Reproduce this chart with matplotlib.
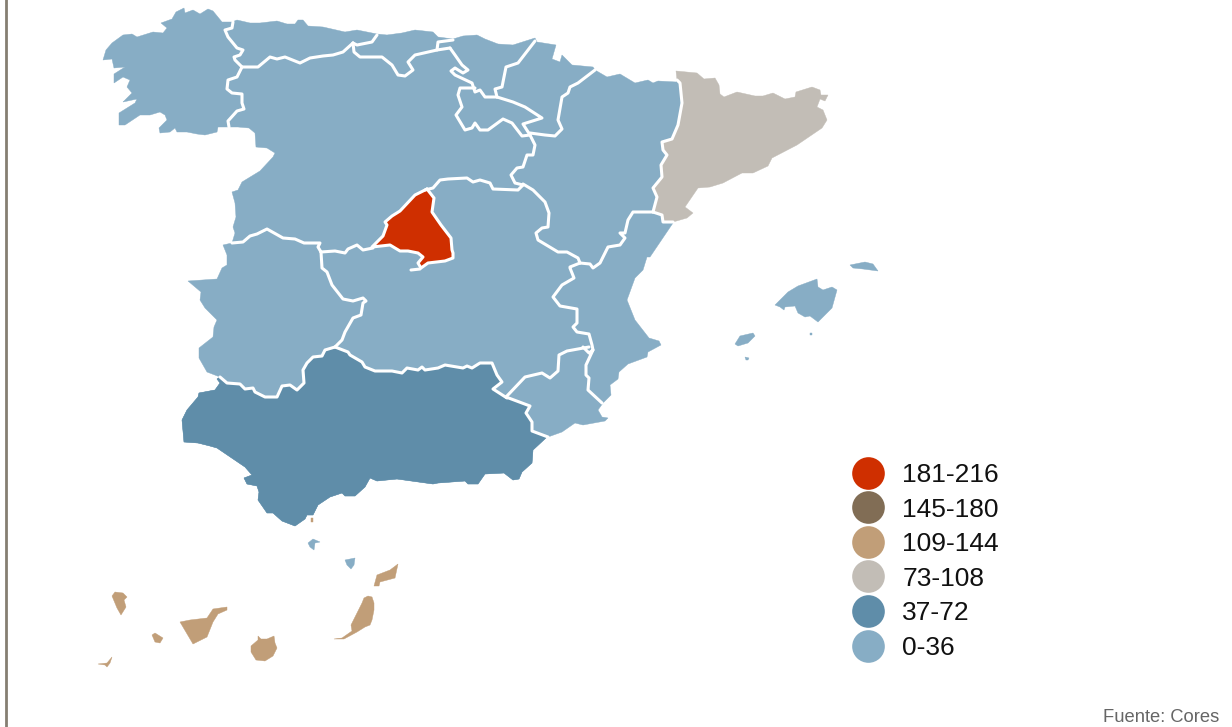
import matplotlib
matplotlib.use("Agg")
import matplotlib.pyplot as plt
from matplotlib.lines import Line2D

plt.rcParams['font.family'] = ['Liberation Sans', 'DejaVu Sans']

# colours per class
legend_labels = ['181-216', '145-180', '109-144', '73-108', '37-72', '0-36']
legend_colors = ['#cf2f00', '#816d55', '#c19e78', '#c2bdb6', '#5f8da9', '#87adc5']
source_text = 'Fuente: Cores'

# coast outlines
north_coast = [(103,60),(106,50),(112,43),(123,35),(132,34),(137,37),(153,32),(163,33),(167,28),(161,23),
               (172,19),(176,12),(184,8),(185,13),(193,10),(200,14),(208,9),(213,11),(222,22),(232,22),
               (237,20),(250,23),(260,23),(277,21),(287,24),(295,24),(298,20),(303,20),(308,26),(323,27),
               (345,32),(357,30),(377,34),(387,35),(402,33),(415,30),(433,32),(438,37),(453,39),(463,36),
               (477,35),(485,39),(498,44),(513,45),(535,38),(537,42),(556,45),(552,59),(560,62),(562,55),
               (568,61),(572,65),(593,67),(595,70),(607,77),(620,74),(635,83),(648,80),(653,83),(658,81),(676,82)]
catalan_coast = [(676,71),(697,73),(704,79),(715,78),(719,85),(720,94),(724,97),(737,92),(755,96),(763,96),
                 (773,93),(785,99),(795,97),(796,92),(812,87),(820,90),(821,95),(828,95),(825,101),(820,99),
                 (817,107),(823,110),(827,120),(822,128),(797,145),(772,158),(768,166),(753,173),(742,173),
                 (723,183),(710,187),(698,188),(685,207),(693,213),(687,218)]
valencia_coast = [(673,223),(650,257),(647,257),(643,270),(635,278),(627,300),(635,320),(649,338),(659,341),
                  (661,345),(648,352),(647,357),(628,364),(619,372),(618,379),(610,385),(611,395),(603,403),
                  (598,410),(602,417),(608,418),(605,421),(583,425),(575,423),(562,432),(548,437)]
andalucia_coast = [(547,437),(533,450),(532,463),(522,472),(519,479),(513,480),(504,473),(485,474),(478,484),
                   (468,484),(465,481),(438,483),(433,484),(397,479),(377,481),(370,478),(365,487),(355,496),
                   (345,496),(342,493),(330,497),(318,505),(313,515),(307,515),(305,519),(295,526),(282,521),
                   (273,513),(267,513),(258,500),(259,492),(257,486),(247,484),(244,478),(252,475),(245,467),
                   (217,448),(210,446),(198,443),(184,442),(182,420),(187,410),(198,397),(199,393),(215,390),
                   (220,383),(217,379)]
west_coast = [(220,377),(207,372),(199,358),(199,348),(213,337),(214,327),(217,320),(205,308),(200,300),
              (201,292),(188,281),(217,279),(222,268),(227,265),(227,255),(223,245),(232,243),(235,233),
              (233,227),(236,217),(235,203),(232,192),(238,190),(242,182),(260,171),(273,157),(275,153),
              (267,148),(256,147),(255,133),(249,128),(238,127),(230,127),(218,127),(217,132),(205,135),
              (197,134),(187,132),(177,132),(175,128),(170,132),(160,133),(159,128),(167,120),(165,115),
              (160,112),(150,115),(140,115),(125,125),(119,125),(119,113),(135,103),(137,99),(123,102),
              (132,93),(127,87),(130,80),(123,77),(114,83),(114,74),(125,67),(114,68),(112,59)]

# inner borders
galicia_border = [(233,22),(232,28),(225,30),(228,37),(237,48),(243,50),(240,55),(234,57),(235,60),(242,67),
                  (237,77),(228,80),(227,89),(232,93),(242,94),(242,103),(244,109),(237,111),(228,121),(229,127)]
asturias_cyl = [(242,67),(258,67),(270,57),(277,59),(285,57),(300,63),(310,58),(323,56),(333,55),(343,52),(353,43)]
asturias_cantabria = [(353,43),(357,45),(372,42),(377,35)]
cantabria_cyl = [(353,43),(354,52),(360,57),(382,57),(392,65),(395,70),(398,75),(405,76),(413,70),(408,62),
                 (415,55),(437,50),(450,48)]
cantabria_pv = [(437,50),(438,42),(453,40)]
cyl_pv = [(450,48),(455,55),(462,65),(468,70),(463,73),(455,68),(451,71),(455,75),(472,83),(475,92),(480,90),
          (485,97),(497,97)]
pv_navarra = [(497,97),(495,89),(502,87),(506,67),(518,63),(535,41)]
rioja_cyl = [(475,88),(460,88),(458,95),(462,107),(456,115),(465,130),(472,128),(475,123),(480,130),(488,130),
             (503,119),(512,123),(522,136),(530,135)]
rioja_navarra = [(497,97),(513,102),(525,107),(542,118),(523,124),(530,135)]
navarra_aragon = [(530,133),(545,135),(555,136),(562,129),(558,120),(562,97),(568,93),(570,87),(578,83),(595,70)]
cyl_aragon = [(530,135),(535,145),(533,155),(527,155),(523,167),(517,168),(511,175),(515,183),(523,185)]
cyl_clm_east = [(425,190),(433,188),(440,180),(448,179),(467,178),(473,182),(480,180),(490,183),(493,189),
                (518,190),(523,185)]
aragon_clm = [(523,184),(533,190),(545,202),(549,213),(548,227),(542,228),(536,233),(538,240),(558,252),
              (567,252),(578,258),(580,263)]
catalan_west = [(653,212),(657,197),(653,188),(662,177),(661,165),(667,155),(663,150),(662,142),(672,139),
                (678,125),(682,103),(680,83),(677,80)]
catalan_south = [(653,212),(662,215),(663,222),(673,222)]
aragon_valencia = [(653,212),(633,212),(628,220),(625,233),(620,233),(625,238),(620,245),(608,247),(600,263),
                   (593,268),(590,264),(580,263)]
clm_valencia = [(580,263),(570,267),(570,268),(574,278),(562,285),(553,297),(560,306),(577,309),(577,323),
                (573,327),(577,332),(589,334),(592,345),(593,350)]
clm_murcia = [(589,347),(567,351),(559,355),(558,371),(550,378),(542,373),(525,377),(506,397)]
murcia_valencia = [(583,347),(589,353),(593,350),(586,365),(586,375),(589,378),(588,390),(602,403)]
andalucia_murcia = [(506,397),(530,406),(526,413),(532,422),(532,431),(548,437)]
andalucia_clm = [(335,347),(348,352),(350,355),(362,362),(365,367),(375,371),(392,371),(402,373),(407,368),
                 (418,370),(422,367),(425,370),(438,368),(445,365),(463,368),(467,366),(472,368),(480,363),
                 (492,363),(497,375),(502,382),(493,389),(507,398)]
andalucia_ext = [(220,377),(227,383),(240,384),(245,389),(253,388),(255,392),(265,397),(277,397),(282,386),
                 (290,385),(297,390),(304,383),(303,370),(307,363),(313,357),(322,356),(325,350),(335,347)]
ext_clm = [(335,347),(342,340),(345,332),(353,318),(361,315),(363,303),(366,301),(363,298),(353,301),(343,299),
           (332,285),(327,272),(322,268),(321,252)]
ext_cyl = [(232,243),(243,242),(250,236),(257,234),(267,229),(283,238),(295,239),(304,243),(320,243),(318,247),(321,252)]
cyl_clm_west = [(321,252),(335,251),(345,253),(348,249),(357,245),(363,250),(373,248)]
madrid_tail = [(420,269),(411,270)]

madrid = [(427,189),(434,198),(432,212),(441,225),(451,238),(452,250),(453,253),(453,258),(445,261),(428,263),
          (421,268),(418,263),(423,257),(418,253),(408,251),(400,251),(390,245),(372,247),(383,236),(387,225),
          (385,222),(392,216),(400,211),(415,195)]

inner_borders = [galicia_border, asturias_cyl, asturias_cantabria, cantabria_cyl, cantabria_pv, cyl_pv, pv_navarra,
                 rioja_cyl, rioja_navarra, navarra_aragon, cyl_aragon, cyl_clm_east, aragon_clm, catalan_west,
                 catalan_south, aragon_valencia, clm_valencia, clm_murcia, murcia_valencia, andalucia_murcia,
                 andalucia_clm, andalucia_ext, ext_clm, ext_cyl, cyl_clm_west, madrid_tail, madrid + madrid[:1]]

# islands
ibiza = [(735,344),(740,336),(753,333),(755,336),(748,343),(738,346)]
formentera = [(745,357),(749,358),(748,360),(746,360)]
mallorca = [(775,305),(788,292),(798,286),(817,279),(818,287),(823,290),(832,287),(837,290),(832,308),(818,322),
            (810,316),(805,317),(798,313),(795,306),(785,307),(784,310),(780,307)]
menorca = [(850,265),(865,262),(873,264),(878,271),(863,269),(853,268)]
cabrera = [(810,333),(812,333),(812,335),(810,335)]
melilla = [(308,543),(313,539),(320,542),(315,543),(314,550),(310,547)]
alboran = [(345,560),(355,558),(354,565),(351,569),(347,565)]
la_palma = [(112,596),(115,592),(123,593),(127,597),(124,600),(126,607),(121,615),(117,608)]
gomera = [(152,635),(155,633),(163,638),(160,643),(155,642)]
hierro = [(98,664),(107,663),(112,657),(110,663),(107,667),(105,665)]
tenerife = [(180,622),(190,620),(207,618),(213,609),(227,607),(227,610),(218,614),(213,622),(207,637),(193,644)]
gran_canaria = [(258,636),(261,639),(267,639),(274,636),(275,643),(277,648),(273,656),(265,661),(256,660),(251,652),
                (251,646),(258,640)]
fuerteventura = [(334,639),(342,638),(352,631),(351,625),(362,603),(364,598),(368,596),(372,597),(374,603),(374,610),
                 (372,620),(370,625),(365,627),(357,632),(344,639)]
lanzarote = [(374,586),(377,575),(390,570),(398,564),(395,578),(380,582),(379,586)]
ceuta = [(311,518),(313,518),(313,522),(311,522)]

mainland = north_coast + catalan_west[::-1] + catalan_south + valencia_coast + andalucia_coast + west_coast
andalucia = andalucia_coast + andalucia_ext + andalucia_clm + andalucia_murcia
cataluna = catalan_coast + catalan_south[::-1] + catalan_west

light_shapes = [mainland, ibiza, formentera, mallorca, menorca, cabrera, melilla, alboran]
tan_shapes = [la_palma, gomera, hierro, tenerife, gran_canaria, fuerteventura, lanzarote, ceuta]


def fill_shape(ax, pts, color):
    ax.fill([p[0] for p in pts], [p[1] for p in pts], color=color, lw=0.3, zorder=2)


fig = plt.figure(figsize=(12.32, 7.27), dpi=100)
ax = fig.add_axes([0, 0, 1, 1])
ax.set_xlim(0, 1232)
ax.set_ylim(727, 0)
ax.axis('off')

for s in light_shapes:
    fill_shape(ax, s, legend_colors[5])
fill_shape(ax, andalucia, legend_colors[4])
fill_shape(ax, cataluna, legend_colors[3])
fill_shape(ax, madrid, legend_colors[0])
for s in tan_shapes:
    fill_shape(ax, s, legend_colors[2])

for b in inner_borders:
    ax.plot([p[0] for p in b], [p[1] for p in b], color='white', lw=2.2, solid_joinstyle='round',
            solid_capstyle='round', zorder=3)

ax.axvline(6.3, color='#857f72', lw=2.0, zorder=4)

handles = [Line2D([], [], ls='none', marker='o', ms=23.5, mfc=c, mec='none') for c in legend_colors]
ax.legend(handles, legend_labels, loc='upper left', bbox_to_anchor=(852 / 1232, 1 - 463 / 727), frameon=False,
          prop={'size': 19}, labelspacing=0.40, handlelength=1.2, handletextpad=0.70, borderpad=0, borderaxespad=0,
          labelcolor='#111111')

ax.text(1219, 722, source_text, ha='right', va='baseline', fontsize=13.2, color='#666666')

fig.savefig('out.png', dpi=100)
